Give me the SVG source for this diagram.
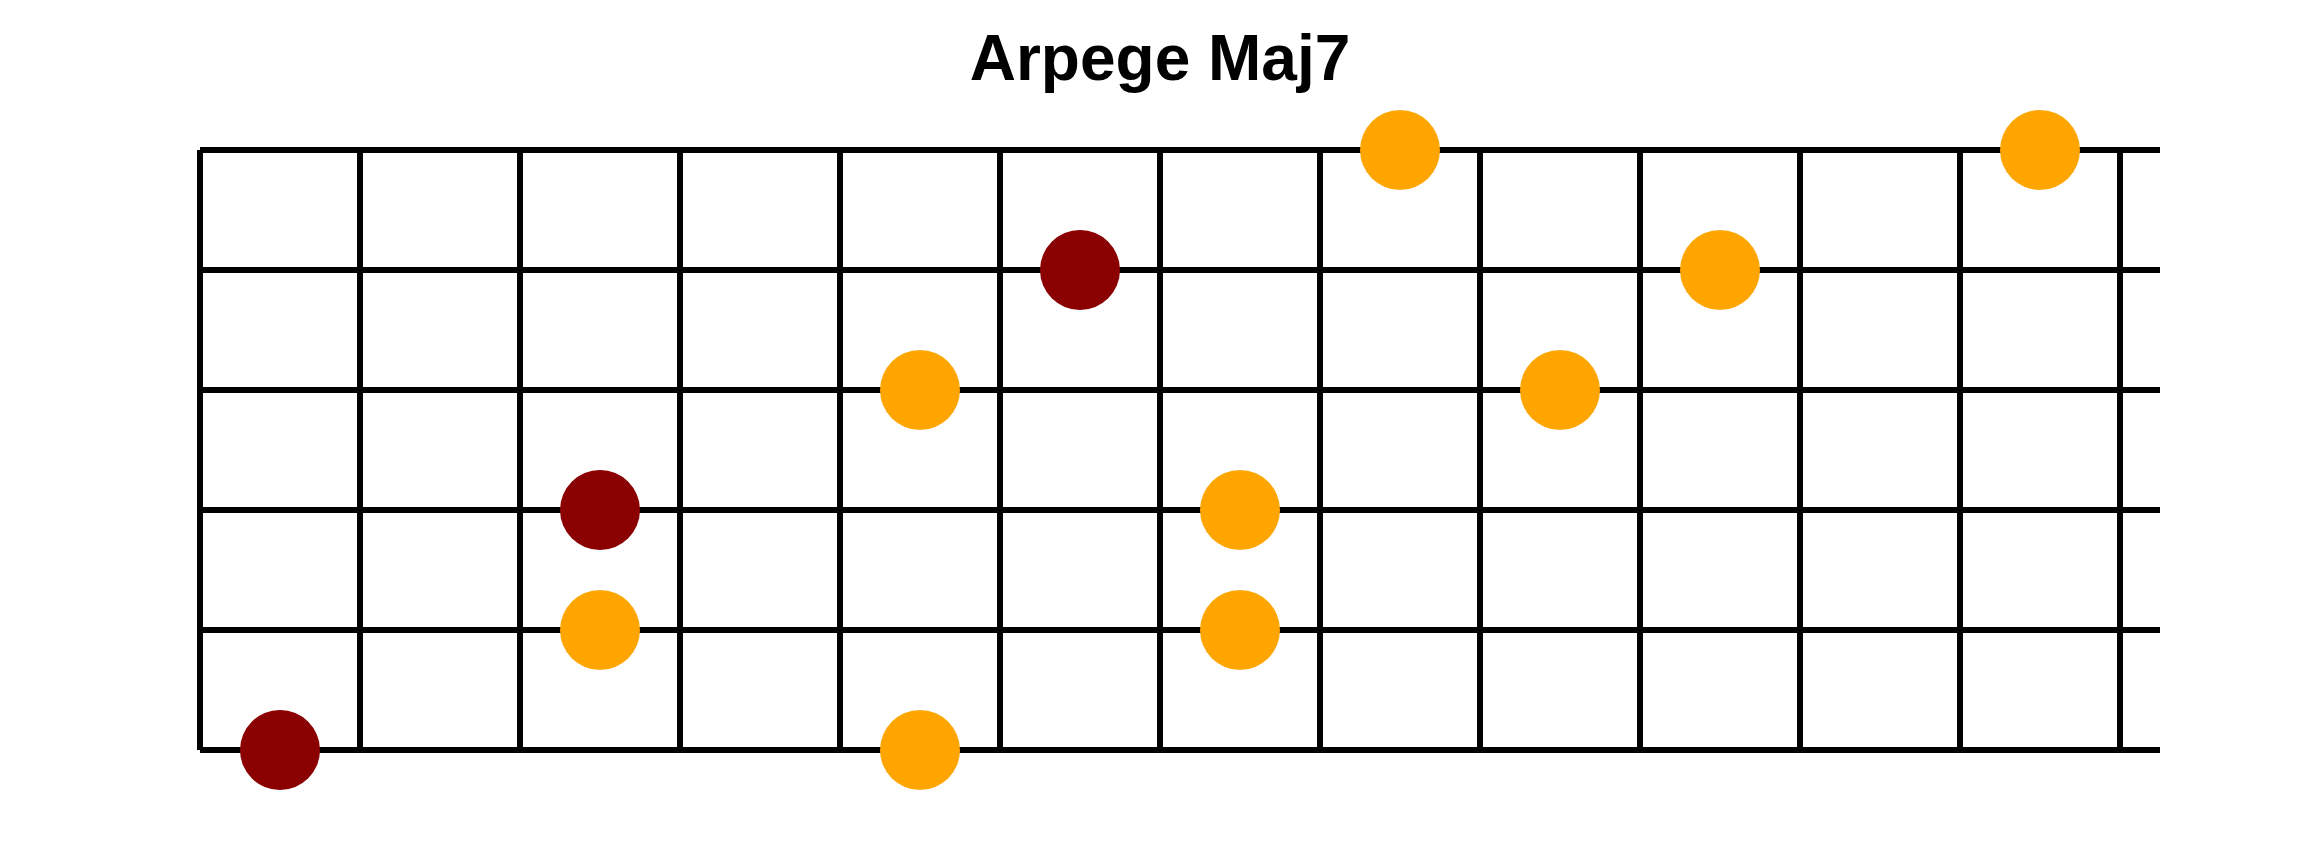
<svg xmlns="http://www.w3.org/2000/svg" width="2320" height="850" viewBox="0 0 2320 850">
<style>
.grid line{stroke:#000;stroke-width:6;stroke-linecap:butt}
.title{font-family:"Liberation Sans",Arial,sans-serif;font-weight:bold;font-size:64px;fill:#000}
.root{fill:#8B0000}
.note{fill:#FFA500}
</style>
<rect width="2320" height="850" fill="#fff"/>
<text class="title" x="1160" y="80" text-anchor="middle">Arpege Maj7</text>
<g id="fretboard" class="grid">
<line x1="200" y1="150" x2="2160" y2="150"/>
<line x1="200" y1="270" x2="2160" y2="270"/>
<line x1="200" y1="390" x2="2160" y2="390"/>
<line x1="200" y1="510" x2="2160" y2="510"/>
<line x1="200" y1="630" x2="2160" y2="630"/>
<line x1="200" y1="750" x2="2160" y2="750"/>
<line x1="200" y1="150" x2="200" y2="750"/>
<line x1="360" y1="150" x2="360" y2="750"/>
<line x1="520" y1="150" x2="520" y2="750"/>
<line x1="680" y1="150" x2="680" y2="750"/>
<line x1="840" y1="150" x2="840" y2="750"/>
<line x1="1000" y1="150" x2="1000" y2="750"/>
<line x1="1160" y1="150" x2="1160" y2="750"/>
<line x1="1320" y1="150" x2="1320" y2="750"/>
<line x1="1480" y1="150" x2="1480" y2="750"/>
<line x1="1640" y1="150" x2="1640" y2="750"/>
<line x1="1800" y1="150" x2="1800" y2="750"/>
<line x1="1960" y1="150" x2="1960" y2="750"/>
<line x1="2120" y1="150" x2="2120" y2="750"/>
</g>
<g id="n1"><circle class="root" cx="280" cy="750" r="40"/></g>
<g id="n2"><circle class="root" cx="600" cy="510" r="40"/></g>
<g id="n3"><circle class="note" cx="600" cy="630" r="40"/></g>
<g id="n4"><circle class="note" cx="920" cy="390" r="40"/></g>
<g id="n5"><circle class="note" cx="920" cy="750" r="40"/></g>
<g id="n6"><circle class="root" cx="1080" cy="270" r="40"/></g>
<g id="n7"><circle class="note" cx="1240" cy="510" r="40"/></g>
<g id="n8"><circle class="note" cx="1240" cy="630" r="40"/></g>
<g id="n9"><circle class="note" cx="1400" cy="150" r="40"/></g>
<g id="n10"><circle class="note" cx="1560" cy="390" r="40"/></g>
<g id="n11"><circle class="note" cx="1720" cy="270" r="40"/></g>
<g id="n12"><circle class="note" cx="2040" cy="150" r="40"/></g>
<g id="connectors"></g>
</svg>
